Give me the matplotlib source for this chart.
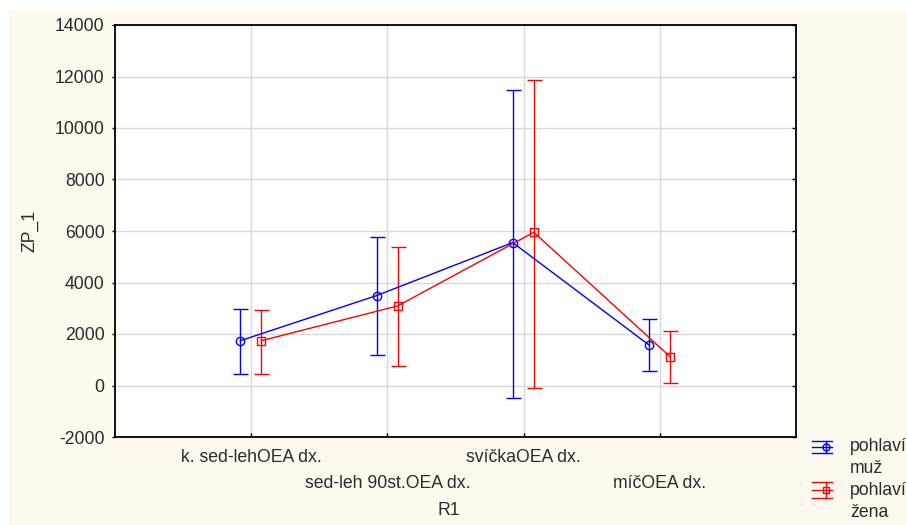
import numpy as np
import matplotlib.pyplot as plt
import matplotlib.transforms as mtransforms
from matplotlib.lines import Line2D
from matplotlib.patches import Rectangle

plt.rcParams['font.family'] = ['Liberation Sans', 'DejaVu Sans']
plt.rcParams['axes.unicode_minus'] = False

# means and interval bounds of ZP_1 by R1 and pohlaví
categories = ['k. sed-lehOEA dx.', 'sed-leh 90st.OEA dx.', 'svíčkaOEA dx.', 'míčOEA dx.']
muz_mean = [1740, 3490, 5550, 1575]
muz_low = [460, 1190, -470, 565]
muz_high = [2970, 5780, 11480, 2570]
zena_mean = [1740, 3090, 5950, 1120]
zena_low = [460, 770, -110, 110]
zena_high = [2920, 5370, 11860, 2120]
series_labels = ['pohlaví\nmuž', 'pohlaví\nžena']
yticks = [-2000, 0, 2000, 4000, 6000, 8000, 10000, 12000, 14000]

W, H = 907, 525
TXT = '#2b2b2b'
FS = 12.7

def fx(px):
    return px / W

def fy(px):
    return 1 - px / H

fig = plt.figure(figsize=(W / 100, H / 100), dpi=100)
fig.patch.set_facecolor('white')
fig.add_artist(Rectangle((fx(9), 0), 1, fy(10), transform=fig.transFigure,
                         facecolor='#fdf9ee', edgecolor='none', zorder=-10))

ax = fig.add_axes([fx(115), fy(437), fx(796 - 115), (437 - 25) / H])
ax.set_facecolor('white')

x = np.arange(1, len(categories) + 1)
series = [
    (x - 0.08, muz_mean, muz_low, muz_high, '#0000ff', 'o'),
    (x + 0.075, zena_mean, zena_low, zena_high, '#ff0000', 's'),
]
for xs, m, lo, hi, col, mk in series:
    m = np.array(m)
    err = [m - np.array(lo), np.array(hi) - m]
    ax.errorbar(xs, m, yerr=err, color=col, lw=1, elinewidth=1, capsize=5.4,
                capthick=1, marker=mk, ms=6, mfc='none', mec=col, mew=1, zorder=3)

ax.set_xlim(0, 5)
ax.set_ylim(-2000, 14000)
ax.set_yticks(yticks)
ax.set_xticks(x)
ax.set_xticklabels([])
ax.grid(True, color='#d9d9d9', lw=1)
ax.set_axisbelow(True)

# category names in two staggered rows under the axis
base = mtransforms.blended_transform_factory(ax.transData, ax.transAxes)
for i, (xi, c) in enumerate(zip(x, categories)):
    off = -9 if i % 2 == 0 else -27
    tr = base + mtransforms.ScaledTranslation(0, off / 72, fig.dpi_scale_trans)
    ax.text(xi, 0, c, transform=tr, ha='center', va='top', fontsize=FS, color=TXT)

for s in ax.spines.values():
    s.set_color('black')
    s.set_linewidth(1.3)

ax.tick_params(axis='y', which='both', direction='out', length=2.5, width=1,
               labelsize=FS, labelcolor=TXT, pad=5, right=True)
for t in ax.yaxis.get_major_ticks():
    t.tick2line.set_marker(0)  # right ticks point into the plot
    t.tick2line.set_markersize(3)
ax.tick_params(axis='x', direction='in', length=3, width=1, top=False)

ax.set_xlabel('R1', fontsize=FS, color=TXT)
ax.xaxis.set_label_coords(0.49, -0.158)
ax.set_ylabel('ZP_1', fontsize=FS, color=TXT, labelpad=12)

# legend outside the plot, bottom right
legend_rows = [
    ('#0000ff', 'o', 446.5, 6, 438),
    ('#ff0000', 's', 490, 8, 482),
]
for (col, mk, mid, gap, top), lab in zip(legend_rows, series_labels):
    for dy in (-gap, 0, gap):
        fig.add_artist(Line2D([fx(812), fx(832)], [fy(mid + dy)] * 2,
                              transform=fig.transFigure, color=col, lw=1))
    fig.add_artist(Line2D([fx(826), fx(826)], [fy(mid - gap), fy(mid + gap)],
                          transform=fig.transFigure, color=col, lw=1))
    fig.add_artist(Line2D([fx(826)], [fy(mid)], transform=fig.transFigure,
                          marker=mk, ms=5, mfc='none', mec=col, mew=1))
    fig.text(fx(850), fy(top), lab, fontsize=FS, color=TXT, va='top',
             ha='left', linespacing=1.4)

fig.savefig('out.png', dpi=100)
